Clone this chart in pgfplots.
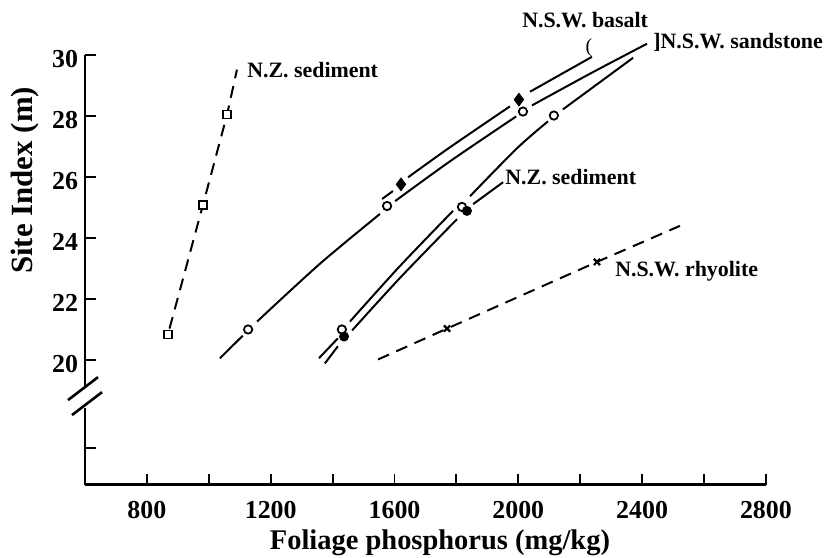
\documentclass[border=0pt]{standalone}
\usepackage{fontspec}
\setmainfont{Liberation Serif}
\usepackage{pgfplots}
\pgfplotsset{compat=1.18}

\begin{document}
\begin{tikzpicture}
\begin{axis}[
  scale only axis, width=342pt, height=216pt,
  xmin=600, xmax=2800, ymin=15.93, ymax=30,
  axis x line=bottom, axis y line=left,
  axis line style={-, line width=1.3pt},
  tick align=inside,
  xtick={800,1200,1600,2000,2400,2800},
  minor xtick={1000,1400,1800,2200,2600},
  ytick={17.13,20,22,24,26,28,30},
  yticklabels={,20,22,24,26,28,30},
  major tick length=5.5pt, minor tick length=5.5pt,
  tick style={black, line width=1pt},
  minor tick style={black, line width=1pt},
  ticklabel style={font=\fontsize{13}{15}\selectfont\bfseries},
  /pgf/number format/assume math mode=true,
  /pgf/number format/1000 sep={},
  xticklabel style={yshift=-5pt},
  yticklabel style={yshift=-2pt},
  clip=false,
]
% N.S.W. basalt (filled diamonds)
\addplot[black, line width=1pt] coordinates {(1560,25.28) (1595,25.54)};
\addplot[black, line width=1pt, smooth] coordinates {(1644,25.99) (1779,26.97) (1973,28.31)};
\addplot[black, line width=1pt] coordinates {(2038,28.79) (2238,29.93)};
\addplot[only marks, mark=diamond*, mark size=3.2pt, black] coordinates {(1621,25.76) (2002,28.53)};

% N.S.W. sandstone (open circles)
\addplot[black, line width=1pt] coordinates {(1036,20.07) (1110,20.81)};
\addplot[black, line width=1pt, smooth] coordinates {(1156,21.27) (1359,23.16) (1553,24.79)};
\addplot[black, line width=1pt, smooth] coordinates {(1602,25.21) (1779,26.51) (1993,27.98)};
\addplot[black, line width=1pt, smooth] coordinates {(2044,28.34) (2232,29.38) (2416,30.36)};

% N.Z. sediment, open circles
\addplot[black, line width=1pt] coordinates {(1356,20.07) (1417,20.72)};
\addplot[black, line width=1pt, smooth] coordinates {(1456,21.27) (1618,23.09) (1789,24.89)};
\addplot[black, line width=1pt, smooth] coordinates {(1844,25.37) (1996,26.94) (2096,27.82)};
\addplot[black, line width=1pt] coordinates {(2144,28.21) (2371,29.90)};

% N.Z. sediment, filled circles
\addplot[black, line width=1pt] coordinates {(1375,19.90) (1417,20.46)};
\addplot[black, line width=1pt, smooth] coordinates {(1463,20.98) (1618,22.70) (1802,24.62)};
\addplot[black, line width=1pt] coordinates {(1854,25.11) (1951,25.83)};
\addplot[only marks, mark=*, mark size=2.3pt, black] coordinates {(1437,20.78) (1834,24.89)};

\addplot[only marks, mark=o, mark size=2.1pt, black, mark options={fill=white, line width=0.9pt}]
  coordinates {(1127,21.01) (1576,25.05) (2015,28.14) (1430,21.01) (1818,25.02) (2115,28.01)};

% N.Z. sediment, dashed with squares
\addplot[black, line width=1pt, dash pattern=on 6pt off 4pt, dash phase=-3pt] coordinates {(868,20.85) (981,25.08) (1059,28.04) (1091,29.51)};
\addplot[only marks, mark=square*, mark size=2pt, black, mark options={fill=white, line width=0.8pt}]
  coordinates {(868,20.85) (981,25.08) (1059,28.04)};

% N.S.W. rhyolite, dashed with crosses
\addplot[black, line width=1pt, dash pattern=on 6pt off 4pt] coordinates {(1547,20.03) (1770,21.04) (2254,23.22) (2522,24.40)};
\addplot[only marks, mark=x, mark size=2.2pt, black, mark options={line width=1.1pt}]
  coordinates {(1770,21.04) (2254,23.22)};

\begin{scope}[every node/.style={font=\fontsize{11}{13}\selectfont\bfseries, inner sep=0pt}]
\node[anchor=west] at (axis cs:1123,29.51) {N.Z. sediment};
\node at (axis cs:2216,31.14) {N.S.W. basalt};
\node[font=\fontsize{10}{12}\selectfont] at (axis cs:2228,30.23) {(};
\node[anchor=west] at (axis cs:2435,30.39) {]N.S.W. sandstone};
\node[anchor=west] at (axis cs:1957,25.99) {N.Z. sediment};
\node[anchor=west] at (axis cs:2312,22.93) {N.S.W. rhyolite};
\end{scope}
\node[font=\fontsize{14.3}{17}\selectfont\bfseries] at (axis cs:1747,14.04) {Foliage phosphorus (mg/kg)};
\node[rotate=90, font=\fontsize{15.5}{18}\selectfont\bfseries] at (axis cs:406,25.89) {Site Index (m)};

\coordinate (g1) at (axis cs:575,18.44);
\coordinate (g2) at (axis cs:625,19.15);
\coordinate (s1a) at (axis cs:545,18.70);
\coordinate (s1b) at (axis cs:642,19.45);
\coordinate (s2a) at (axis cs:558,18.21);
\coordinate (s2b) at (axis cs:655,18.96);
\coordinate (bbl) at (axis cs:325.4,13.55);
\coordinate (btr) at (axis cs:3016.8,31.79);
\end{axis}
\fill[white] (g1) rectangle (g2);
\draw[line width=1.3pt] (s1a) -- (s1b);
\draw[line width=1.3pt] (s2a) -- (s2b);
\pgfresetboundingbox
\path[use as bounding box] (bbl) rectangle (btr);
\end{tikzpicture}
\end{document}
